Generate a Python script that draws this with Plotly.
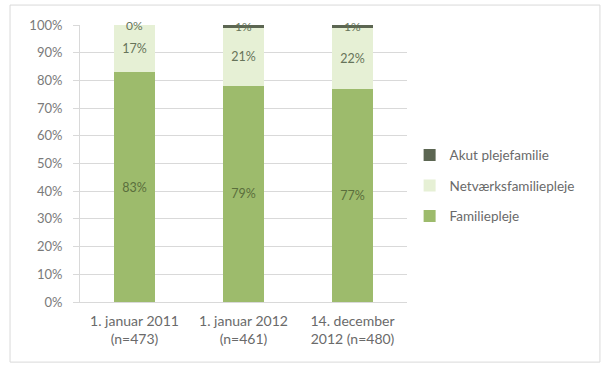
import plotly.graph_objects as go

categories = ["1. januar 2011<br>(n=473)", "1. januar 2012<br>(n=461)", "14. december<br>2012 (n=480)"]
familiepleje = [83, 78, 77]
familiepleje_labels = ["83%", "79%", "77%"]
netvaerk = [17, 21, 22]
akut = [0, 1, 1]
y_ticks = [0, 10, 20, 30, 40, 50, 60, 70, 80, 90, 100]

FONT = "Lato, Open Sans, sans-serif"
col_fam = "#9dbb6c"
col_net = "#e6f0d5"
col_akut = "#5c6652"

fig = go.Figure()
fig.add_trace(go.Bar(x=categories, y=familiepleje, name="Familiepleje", legendgroup="f", legendrank=3,
                     marker=dict(color=col_fam, line=dict(width=0)),
                     text=familiepleje_labels, textposition="inside", insidetextanchor="middle",
                     textfont=dict(color="#5a6e3c", size=12.5, family=FONT), hoverinfo="skip"))
fig.add_trace(go.Bar(x=categories, y=netvaerk, name="Netværksfamiliepleje", legendgroup="n", legendrank=2,
                     marker=dict(color=col_net, line=dict(width=0)),
                     text=[f"{v}%" for v in netvaerk], textposition="inside", insidetextanchor="middle",
                     textfont=dict(color="#66745a", size=12.5, family=FONT), hoverinfo="skip"))
fig.add_trace(go.Bar(x=categories, y=akut, name="Akut plejefamilie", legendgroup="a", legendrank=1,
                     marker=dict(color=col_akut, line=dict(width=0)),
                     hoverinfo="skip"))

annotations = []
for i, c in enumerate(categories):
    base = familiepleje[i] + netvaerk[i]
    annotations.append(dict(x=c, y=base + akut[i] / 2, text=f"{akut[i]}%", showarrow=False,
                            font=dict(color="#66745a", size=12, family=FONT), xref="x", yref="y"))

fig.update_layout(
    width=606, height=367,
    barmode="stack", bargap=0.62,
    plot_bgcolor="white", paper_bgcolor="white",
    margin=dict(l=80, r=199, t=25, b=65),
    font=dict(family=FONT, color="#6a6a6a", size=12),
    annotations=annotations,
    legend=dict(x=1.008, y=0.42, xanchor="left", yanchor="middle", traceorder="grouped",
                font=dict(size=13.5, color="#6a6a6a", family=FONT), tracegroupgap=10,
                itemwidth=30, bgcolor="rgba(0,0,0,0)"),
    shapes=[dict(type="rect", xref="paper", yref="paper", x0=-0.214, x1=1.59, y0=-0.217, y1=1.072,
                 line=dict(color="#d9d9d9", width=1), fillcolor="rgba(0,0,0,0)", layer="below")],
)
fig.update_yaxes(range=[0, 100], tickvals=y_ticks, ticktext=[f"{v}%" for v in y_ticks],
                 showgrid=True, gridcolor="#d9d9d9", gridwidth=1, zeroline=False,
                 showline=True, linecolor="#d9d9d9", ticks="outside", ticklen=6, tickcolor="#d9d9d9",
                 ticklabelstandoff=8,
                 tickfont=dict(size=13, color="#7a7a7a"))
fig.update_xaxes(showline=True, linecolor="#d9d9d9", tickfont=dict(size=14, color="#6a6a6a"),
                 ticks="", showgrid=False, ticklabelstandoff=6)

fig.write_html("out.html")
